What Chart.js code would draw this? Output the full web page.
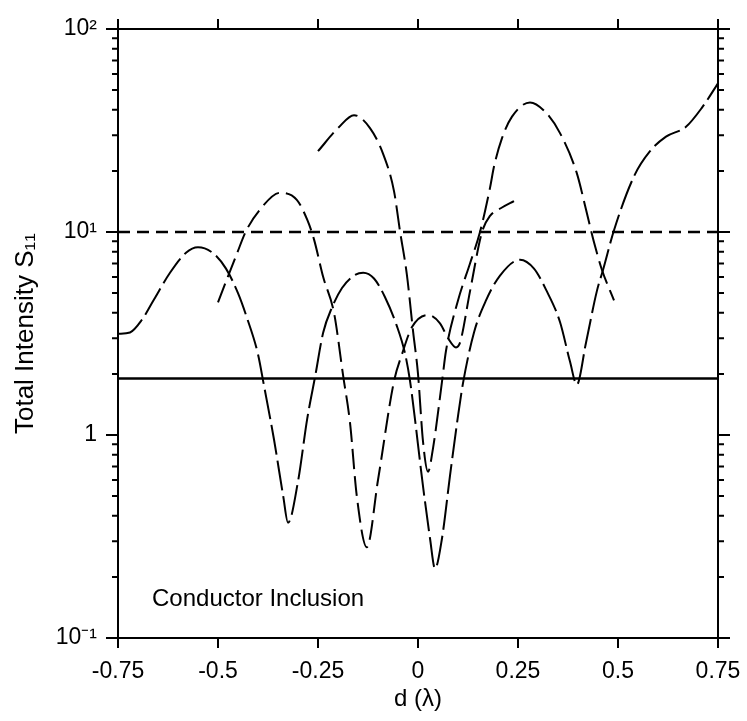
<!DOCTYPE html>
<html>
<head>
<meta charset="utf-8">
<script src="https://cdn.jsdelivr.net/npm/chart.js@4/dist/chart.umd.min.js"></script>
<style>
  html, body { margin: 0; padding: 0; background: #fff; }
  canvas { display: block; }
</style>
</head>
<body>
<canvas id="myChart" width="747" height="721"></canvas>
<script>
// curve that runs over the whole range
const dA = [-0.75, -0.72, -0.69, -0.66, -0.62, -0.58, -0.55, -0.51, -0.48, -0.45, -0.43, -0.40, -0.385, -0.36, -0.337, -0.325,
            -0.30, -0.277, -0.257, -0.237, -0.215, -0.19, -0.16, -0.137, -0.11, -0.083, -0.053, -0.033, -0.02, 0.0125, 0.03, 0.0425,
            0.06, 0.08, 0.10, 0.1125, 0.14, 0.17, 0.205, 0.255, 0.29, 0.32, 0.355, 0.38, 0.397, 0.42, 0.447, 0.4625, 0.49,
            0.54, 0.58, 0.62, 0.67, 0.71, 0.75];
const sA = [3.15, 3.2, 3.7, 4.65, 6.3, 7.9, 8.4, 7.8, 6.6, 5.0, 3.9, 2.5, 1.75, 0.95, 0.5, 0.37,
            0.59, 1.2, 1.95, 3.2, 4.25, 5.3, 6.1, 6.3, 5.9, 4.8, 3.45, 2.55, 1.85, 0.56, 0.31, 0.22,
            0.31, 0.63, 1.24, 1.8, 3.2, 4.6, 6.1, 7.3, 6.6, 5.2, 3.6, 2.3, 1.77, 2.85, 5.1, 6.5, 10.2,
            18.8, 25, 29.5, 33, 41, 54];

// curve from -0.25 to 0.5
const dB = [-0.25, -0.2, -0.16, -0.12, -0.087, -0.06, -0.045, -0.028, -0.012, 0.0, 0.0125, 0.025, 0.0375,
            0.06, 0.07, 0.10, 0.13, 0.155, 0.18, 0.19, 0.21, 0.235, 0.28, 0.32, 0.355, 0.397, 0.42, 0.44, 0.46, 0.49];
const sB = [25, 32.5, 37.6, 32.5, 24.2, 15.9, 10.1, 6.2, 3.2, 2.0, 0.93, 0.66, 0.86,
            1.83, 2.6, 4.6, 7.0, 10, 16.5, 21, 29, 37, 43.5, 38.7, 30.7, 19.5, 12.9, 8.9, 6.5, 4.6];

// curve from -0.5 to 0.25
const dD = [-0.5, -0.48, -0.453, -0.43, -0.395, -0.345, -0.303, -0.277, -0.26, -0.237, -0.21, -0.187, -0.17, -0.153, -0.128,
            -0.10, -0.06, -0.04, -0.015, 0.025, 0.055, 0.075, 0.095, 0.105, 0.13, 0.16, 0.18, 0.21, 0.24];
const sD = [4.5, 5.7, 7.8, 10.1, 12.9, 15.6, 14.4, 11.5, 9.2, 6.0, 4.0, 1.95, 1.15, 0.5, 0.28,
            0.6, 1.84, 2.5, 3.4, 3.9, 3.55, 3.0, 2.7, 2.85, 5.1, 10, 12, 13.2, 14.2];

// the two flat reference levels
const dFlat = [-0.75, 0.75];
const sSolid = [1.9, 1.9];
const sShort = [10, 10];

const xTickValues = [-0.75, -0.5, -0.25, 0, 0.25, 0.5, 0.75];
const xTickLabels = ['-0.75', '-0.5', '-0.25', '0', '0.25', '0.5', '0.75'];
const yTickValues = [0.1, 1, 10, 100];
const yTickLabels = ['10\u207B\u00B9', '1', '10\u00B9', '10\u00B2'];
const yMinorMults = [2, 3, 4, 5, 6, 7, 8, 9];

const noteText = 'Conductor Inclusion';
const noteX = -0.665;
const noteY = 0.155;

function pts(xs, ys) {
    return xs.map((v, i) => ({x: v, y: ys[i]}));
}

Chart.defaults.font.family = '"Liberation Sans", Arial, sans-serif';
Chart.defaults.color = '#000';

// box around the plot, outward tick marks on all four sides, and the note
const frameTicks = {
    id: 'frameTicks',
    afterDraw(chart) {
        const ctx = chart.ctx;
        const a = chart.chartArea;
        const x = chart.scales.x;
        const y = chart.scales.y;
        ctx.save();
        ctx.strokeStyle = '#000';
        ctx.lineWidth = 2;
        ctx.strokeRect(a.left, a.top, a.right - a.left, a.bottom - a.top);
        ctx.beginPath();
        xTickValues.forEach(v => {
            const px = x.getPixelForValue(v);
            ctx.moveTo(px, a.bottom); ctx.lineTo(px, a.bottom + 10);
            ctx.moveTo(px, a.top); ctx.lineTo(px, a.top - 10);
        });
        yTickValues.forEach(v => {
            const py = y.getPixelForValue(v);
            ctx.moveTo(a.left - 12, py); ctx.lineTo(a.left, py);
            ctx.moveTo(a.right, py); ctx.lineTo(a.right + 12, py);
        });
        for (let i = 0; i < yTickValues.length - 1; i++) {
            yMinorMults.forEach(m => {
                const py = y.getPixelForValue(yTickValues[i] * m);
                ctx.moveTo(a.left - 6, py); ctx.lineTo(a.left, py);
                ctx.moveTo(a.right, py); ctx.lineTo(a.right + 6, py);
            });
        }
        ctx.stroke();

        ctx.font = '24px "Liberation Sans", Arial, sans-serif';
        ctx.fillStyle = '#000';
        ctx.textAlign = 'left';
        ctx.textBaseline = 'middle';
        ctx.fillText(noteText, x.getPixelForValue(noteX), y.getPixelForValue(noteY));
        ctx.restore();
    }
};

const ctx = document.getElementById('myChart').getContext('2d');

const myChart = new Chart(ctx, {
    type: 'line',
    data: {
        datasets: [
            { data: pts(dFlat, sSolid), borderColor: '#000', borderWidth: 2.5 },
            { data: pts(dFlat, sShort), borderColor: '#000', borderWidth: 2.5, borderDash: [12, 7] },
            { data: pts(dA, sA), borderColor: '#000', borderWidth: 2, borderDash: [30, 6], cubicInterpolationMode: 'monotone' },
            { data: pts(dB, sB), borderColor: '#000', borderWidth: 2, borderDash: [24, 7], cubicInterpolationMode: 'monotone' },
            { data: pts(dD, sD), borderColor: '#000', borderWidth: 2, borderDash: [20, 7], cubicInterpolationMode: 'monotone' }
        ]
    },
    options: {
        responsive: false,
        devicePixelRatio: 1,
        animation: false,
        layout: { padding: { top: 29, right: 29, left: 0, bottom: 0 } },
        elements: { point: { radius: 0 }, line: { fill: false } },
        plugins: {
            legend: { display: false },
            tooltip: { enabled: false }
        },
        scales: {
            x: {
                type: 'linear',
                min: -0.75,
                max: 0.75,
                grid: { display: false, drawTicks: false },
                border: { display: false },
                afterBuildTicks: s => { s.ticks = xTickValues.map(v => ({value: v})); },
                afterFit: s => { s.height = 83; s.paddingLeft = 0; s.paddingRight = 0; },
                ticks: {
                    padding: 20,
                    maxRotation: 0,
                    font: { size: 23 },
                    callback: (v, i) => xTickLabels[i]
                },
                title: {
                    display: true,
                    text: 'd (\u03BB)',
                    font: { size: 24 },
                    padding: { top: 0, bottom: 7 }
                }
            },
            y: {
                type: 'logarithmic',
                min: 0.1,
                max: 100,
                grid: { display: false, drawTicks: false },
                border: { display: false },
                afterBuildTicks: s => { s.ticks = yTickValues.map(v => ({value: v})); },
                afterFit: s => { s.width = 118; s.paddingTop = 0; s.paddingBottom = 0; },
                ticks: {
                    padding: 21,
                    font: { size: 23 },
                    callback: (v, i) => yTickLabels[i]
                },
                title: {
                    display: true,
                    text: 'Total Intensity S\u2081\u2081',
                    font: { size: 26 },
                    padding: { top: 10, bottom: 0 }
                }
            }
        }
    },
    plugins: [frameTicks]
});
</script>
</body>
</html>
